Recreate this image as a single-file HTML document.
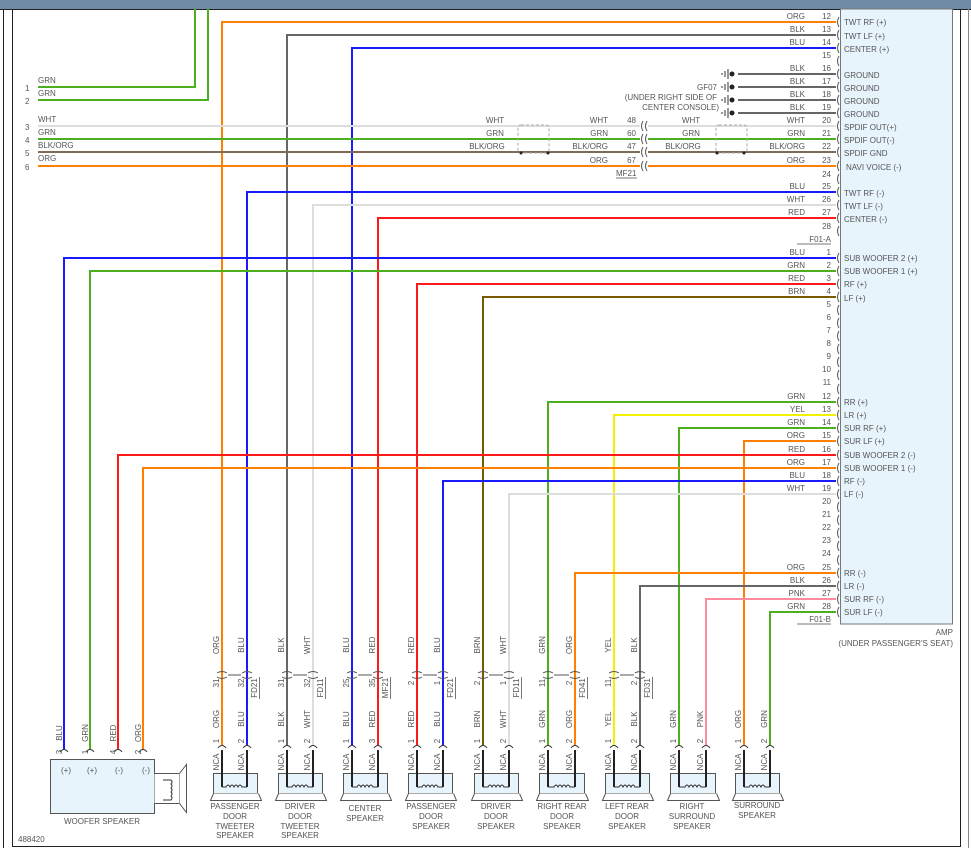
<!DOCTYPE html>
<html><head><meta charset="utf-8"><style>
html,body{margin:0;padding:0;background:#fff;}
svg{display:block;}
text{font-family:"Liberation Sans",sans-serif;font-size:8px;fill:#555;}
</style></head><body>
<svg width="971" height="858" viewBox="0 0 971 858" xmlns="http://www.w3.org/2000/svg">
<rect x="0" y="0" width="971" height="9" fill="#6f8aa4"/>
<line x1="0" y1="9.5" x2="971" y2="9.5" stroke="#222" stroke-width="1"/>
<line x1="3.5" y1="9" x2="3.5" y2="848" stroke="#222"/>
<line x1="12.5" y1="9" x2="12.5" y2="847" stroke="#222"/>
<line x1="12" y1="846.5" x2="961" y2="846.5" stroke="#222"/>
<line x1="960.5" y1="9" x2="960.5" y2="847" stroke="#222"/>
<line x1="968.5" y1="9" x2="968.5" y2="848" stroke="#888"/>
<!-- AMP box -->
<rect x="840.5" y="9" width="112" height="615" fill="#e8f4fc" stroke="#777"/>
<text x="953" y="635" text-anchor="end">AMP</text>
<text x="953" y="646" text-anchor="end">(UNDER PASSENGER'S SEAT)</text>

<g fill="none" stroke-width="2">
<path d="M836,22H222V745" stroke="#ff8000"/>
<path d="M836,35H287V745" stroke="#666"/>
<path d="M836,48H352V745" stroke="#1a1aff"/>
<path d="M836,192H247V745" stroke="#1a1aff"/>
<path d="M836,205H313V745" stroke="#ddd"/>
<path d="M836,218H378V745" stroke="#ff1a1a"/>
<path d="M38,87H195V9" stroke="#4caf1e"/>
<path d="M38,100H208V9" stroke="#4caf1e"/>
<path d="M38,126H836" stroke="#ddd"/>
<path d="M38,139H836" stroke="#4caf1e"/>
<path d="M38,152H836" stroke="#806a58"/>
<path d="M38,166H836" stroke="#ff8000"/>
<path d="M738,74H836M738,87H836M738,100H836M738,113H836" stroke="#666"/>
<path d="M836,258H64V749" stroke="#1a1aff"/>
<path d="M836,271H90V749" stroke="#4caf1e"/>
<path d="M836,284H417V745" stroke="#ff1a1a"/>
<path d="M836,297H483V745" stroke="#7a5a00"/>
<path d="M836,402H548V745" stroke="#4caf1e"/>
<path d="M836,415H614V745" stroke="#f2f200"/>
<path d="M836,428H679V745" stroke="#4caf1e"/>
<path d="M836,441H744V745" stroke="#ff8000"/>
<path d="M836,455H118V749" stroke="#ff1a1a"/>
<path d="M836,468H143V749" stroke="#ff8000"/>
<path d="M836,481H443V745" stroke="#1a1aff"/>
<path d="M836,494H509V745" stroke="#ddd"/>
<path d="M836,573H575V745" stroke="#ff8000"/>
<path d="M836,586H640V745" stroke="#666"/>
<path d="M836,599H706V745" stroke="#ff8aa0"/>
<path d="M836,612H770V745" stroke="#4caf1e"/>
</g>

<g fill="none" stroke="#555" stroke-width="1">
<path d="M839,17q-3,5 0,10M839,30q-3,5 0,10M839,43q-3,5 0,10M839,56q-3,5 0,10M839,69q-3,5 0,10M839,82q-3,5 0,10M839,95q-3,5 0,10M839,108q-3,5 0,10M839,121q-3,5 0,10M839,134q-3,5 0,10M839,147q-3,5 0,10M839,161q-3,5 0,10M839,174q-3,5 0,10M839,187q-3,5 0,10M839,200q-3,5 0,10M839,213q-3,5 0,10M839,226q-3,5 0,10"/>
<path d="M839,253q-3,5 0,10M839,266q-3,5 0,10M839,279q-3,5 0,10M839,292q-3,5 0,10M839,305q-3,5 0,10M839,318q-3,5 0,10M839,331q-3,5 0,10M839,344q-3,5 0,10M839,357q-3,5 0,10M839,370q-3,5 0,10M839,384q-3,5 0,10M839,397q-3,5 0,10M839,410q-3,5 0,10M839,423q-3,5 0,10M839,436q-3,5 0,10M839,450q-3,5 0,10M839,463q-3,5 0,10M839,476q-3,5 0,10M839,489q-3,5 0,10M839,502q-3,5 0,10M839,515q-3,5 0,10M839,528q-3,5 0,10M839,541q-3,5 0,10M839,555q-3,5 0,10M839,568q-3,5 0,10M839,581q-3,5 0,10M839,594q-3,5 0,10M839,607q-3,5 0,10"/>
</g>
<rect x="640" y="120" width="8" height="50" fill="#fff"/>
<g fill="none" stroke="#555" stroke-width="1">
<path d="M643,121q-3,5 0,10M647,121q-3,5 0,10M643,134q-3,5 0,10M647,134q-3,5 0,10M643,147q-3,5 0,10M647,147q-3,5 0,10M643,161q-3,5 0,10M647,161q-3,5 0,10"/>
<rect x="518" y="125" width="31" height="28" rx="3" stroke="#aaa" stroke-dasharray="3,2"/>
<rect x="716" y="125" width="31" height="28" rx="3" stroke="#aaa" stroke-dasharray="3,2"/>
</g>
<g fill="#222"><circle cx="521" cy="153" r="1.5"/><circle cx="548" cy="153" r="1.5"/><circle cx="717" cy="153" r="1.5"/><circle cx="744" cy="153" r="1.5"/>
<circle cx="732" cy="74" r="2.5"/><circle cx="732" cy="87" r="2.5"/><circle cx="732" cy="100" r="2.5"/><circle cx="732" cy="113" r="2.5"/></g>
<g stroke="#333" stroke-width="1"><path d="M728,69v10M725,71v6M722,73v2M728,82v10M725,84v6M722,86v2M728,95v10M725,97v6M722,99v2M728,108v10M725,110v6M722,112v2"/></g>
<text x="717" y="90" text-anchor="end">GF07</text>
<text x="717" y="100" text-anchor="end">(UNDER RIGHT SIDE OF</text>
<text x="719" y="110" text-anchor="end">CENTER CONSOLE)</text>

<g text-anchor="end">
<text x="831" y="19">12</text><text x="805" y="19">ORG</text>
<text x="831" y="32">13</text><text x="805" y="32">BLK</text>
<text x="831" y="45">14</text><text x="805" y="45">BLU</text>
<text x="831" y="58">15</text>
<text x="831" y="71">16</text><text x="805" y="71">BLK</text>
<text x="831" y="84">17</text><text x="805" y="84">BLK</text>
<text x="831" y="97">18</text><text x="805" y="97">BLK</text>
<text x="831" y="110">19</text><text x="805" y="110">BLK</text>
<text x="831" y="123">20</text><text x="805" y="123">WHT</text>
<text x="831" y="136">21</text><text x="805" y="136">GRN</text>
<text x="831" y="149">22</text><text x="805" y="149">BLK/ORG</text>
<text x="831" y="163">23</text><text x="805" y="163">ORG</text>
<text x="831" y="177">24</text>
<text x="831" y="189">25</text><text x="805" y="189">BLU</text>
<text x="831" y="202">26</text><text x="805" y="202">WHT</text>
<text x="831" y="215">27</text><text x="805" y="215">RED</text>
<text x="831" y="229">28</text>
<text x="831" y="255">1</text><text x="805" y="255">BLU</text>
<text x="831" y="268">2</text><text x="805" y="268">GRN</text>
<text x="831" y="281">3</text><text x="805" y="281">RED</text>
<text x="831" y="294">4</text><text x="805" y="294">BRN</text>
<text x="831" y="307">5</text><text x="831" y="320">6</text><text x="831" y="333">7</text><text x="831" y="346">8</text><text x="831" y="359">9</text><text x="831" y="372">10</text><text x="831" y="385">11</text>
<text x="831" y="399">12</text><text x="805" y="399">GRN</text>
<text x="831" y="412">13</text><text x="805" y="412">YEL</text>
<text x="831" y="425">14</text><text x="805" y="425">GRN</text>
<text x="831" y="438">15</text><text x="805" y="438">ORG</text>
<text x="831" y="452">16</text><text x="805" y="452">RED</text>
<text x="831" y="465">17</text><text x="805" y="465">ORG</text>
<text x="831" y="478">18</text><text x="805" y="478">BLU</text>
<text x="831" y="491">19</text><text x="805" y="491">WHT</text>
<text x="831" y="504">20</text><text x="831" y="517">21</text><text x="831" y="530">22</text><text x="831" y="543">23</text><text x="831" y="556">24</text>
<text x="831" y="570">25</text><text x="805" y="570">ORG</text>
<text x="831" y="583">26</text><text x="805" y="583">BLK</text>
<text x="831" y="596">27</text><text x="805" y="596">PNK</text>
<text x="831" y="609">28</text><text x="805" y="609">GRN</text>
<text x="831" y="242">F01-A</text>
<text x="831" y="622">F01-B</text>
<text x="636" y="123">48</text><text x="608" y="123">WHT</text>
<text x="636" y="136">60</text><text x="608" y="136">GRN</text>
<text x="636" y="149">47</text><text x="608" y="149">BLK/ORG</text>
<text x="636" y="163">67</text><text x="608" y="163">ORG</text>
</g>
<line x1="797" y1="244" x2="831" y2="244" stroke="#777"/>
<line x1="797" y1="624" x2="831" y2="624" stroke="#777"/>
<text x="616" y="176">MF21</text><line x1="616" y1="178" x2="637" y2="178" stroke="#777"/>
<g text-anchor="middle">
<text x="691" y="123">WHT</text><text x="691" y="136">GRN</text><text x="683" y="149">BLK/ORG</text>
<text x="495" y="123">WHT</text><text x="495" y="136">GRN</text><text x="487" y="149">BLK/ORG</text>
</g>
<text x="38" y="83">GRN</text><text x="38" y="96">GRN</text>
<text x="38" y="122">WHT</text><text x="38" y="135">GRN</text><text x="38" y="148">BLK/ORG</text><text x="38" y="161">ORG</text>
<text x="25" y="91">1</text><text x="25" y="104">2</text><text x="25" y="130">3</text><text x="25" y="143">4</text><text x="25" y="156">5</text><text x="25" y="170">6</text>

<g>
<text x="844" y="25">TWT RF (+)</text><text x="844" y="39">TWT LF (+)</text><text x="844" y="52">CENTER (+)</text>
<text x="844" y="78">GROUND</text><text x="844" y="91">GROUND</text><text x="844" y="104">GROUND</text><text x="844" y="117">GROUND</text>
<text x="844" y="130">SPDIF OUT(+)</text><text x="844" y="143">SPDIF OUT(-)</text><text x="844" y="156">SPDIF GND</text><text x="846" y="170">NAVI VOICE (-)</text>
<text x="844" y="196">TWT RF (-)</text><text x="844" y="209">TWT LF (-)</text><text x="844" y="222">CENTER (-)</text>
<text x="844" y="261">SUB WOOFER 2 (+)</text><text x="844" y="274">SUB WOOFER 1 (+)</text><text x="844" y="287">RF (+)</text><text x="844" y="301">LF (+)</text>
<text x="844" y="405">RR (+)</text><text x="844" y="418">LR (+)</text><text x="844" y="431">SUR RF (+)</text><text x="844" y="444">SUR LF (+)</text>
<text x="844" y="458">SUB WOOFER 2 (-)</text><text x="844" y="471">SUB WOOFER 1 (-)</text><text x="844" y="484">RF (-)</text><text x="844" y="497">LF (-)</text>
<text x="844" y="576">RR (-)</text><text x="844" y="589">LR (-)</text><text x="844" y="602">SUR RF (-)</text><text x="844" y="615">SUR LF (-)</text>
</g>

<g fill="none" stroke="#555" stroke-width="1">
<path d="M217,673q5,-3 10,0M217,677q5,3 10,0M242,673q5,-3 10,0M242,677q5,3 10,0M228,675h13"/>
<path d="M282,673q5,-3 10,0M282,677q5,3 10,0M308,673q5,-3 10,0M308,677q5,3 10,0M293,675h14"/>
<path d="M347,673q5,-3 10,0M347,677q5,3 10,0M373,673q5,-3 10,0M373,677q5,3 10,0M358,675h14"/>
<path d="M412,673q5,-3 10,0M412,677q5,3 10,0M438,673q5,-3 10,0M438,677q5,3 10,0M423,675h14"/>
<path d="M478,673q5,-3 10,0M478,677q5,3 10,0M504,673q5,-3 10,0M504,677q5,3 10,0M489,675h14"/>
<path d="M543,673q5,-3 10,0M543,677q5,3 10,0M570,673q5,-3 10,0M570,677q5,3 10,0M554,675h15"/>
<path d="M609,673q5,-3 10,0M609,677q5,3 10,0M635,673q5,-3 10,0M635,677q5,3 10,0M620,675h14"/>
</g>
<g fill="none" stroke="#333" stroke-width="1">
<path d="M218,748q4,-5 8,0M243,748q4,-5 8,0M283,748q4,-5 8,0M309,748q4,-5 8,0M348,748q4,-5 8,0M374,748q4,-5 8,0M413,748q4,-5 8,0M439,748q4,-5 8,0M479,748q4,-5 8,0M505,748q4,-5 8,0M544,748q4,-5 8,0M571,748q4,-5 8,0M610,748q4,-5 8,0M636,748q4,-5 8,0M675,748q4,-5 8,0M702,748q4,-5 8,0M740,748q4,-5 8,0M766,748q4,-5 8,0"/>
<path d="M60,752q4,-5 8,0M86,752q4,-5 8,0M114,752q4,-5 8,0M139,752q4,-5 8,0"/>
</g>

<g>
<g stroke="#555" fill="#e8f4fc"><rect x="213.5" y="773.5" width="44" height="20"/><rect x="278.5" y="773.5" width="44" height="20"/><rect x="343.5" y="773.5" width="44" height="20"/><rect x="408.5" y="773.5" width="44" height="20"/><rect x="474.5" y="773.5" width="44" height="20"/><rect x="539.5" y="773.5" width="45" height="20"/><rect x="605.5" y="773.5" width="44" height="20"/><rect x="670.5" y="773.5" width="45" height="20"/><rect x="735.5" y="773.5" width="44" height="20"/></g>
<g stroke="#555" fill="#fff"><path d="M213.5,793.5l-3,7h51l-3,-7"/><path d="M278.5,793.5l-3,7h51l-3,-7"/><path d="M343.5,793.5l-3,7h51l-3,-7"/><path d="M408.5,793.5l-3,7h51l-3,-7"/><path d="M474.5,793.5l-3,7h51l-3,-7"/><path d="M539.5,793.5l-3,7h52l-3,-7"/><path d="M605.5,793.5l-3,7h51l-3,-7"/><path d="M670.5,793.5l-3,7h52l-3,-7"/><path d="M735.5,793.5l-3,7h51l-3,-7"/></g>
<g fill="none" stroke="#222" stroke-width="2"><path d="M222,750V787M247,750V787M287,750V787M313,750V787M352,750V787M378,750V787M417,750V787M443,750V787M483,750V787M509,750V787M548,750V787M575,750V787M614,750V787M640,750V787M679,750V787M706,750V787M744,750V787M770,750V787"/></g>
<g fill="none" stroke="#333" stroke-width="1">
<path d="M222,787h4q2,-4 4,0q2,-4 4,0q2,-4 4,0q2,-4 4,0h5"/>
<path d="M287,787h5q2,-4 4,0q2,-4 4,0q2,-4 4,0q2,-4 4,0h5"/>
<path d="M352,787h5q2,-4 4,0q2,-4 4,0q2,-4 4,0q2,-4 4,0h5"/>
<path d="M417,787h5q2,-4 4,0q2,-4 4,0q2,-4 4,0q2,-4 4,0h5"/>
<path d="M483,787h5q2,-4 4,0q2,-4 4,0q2,-4 4,0q2,-4 4,0h5"/>
<path d="M548,787h6q2,-4 4,0q2,-4 4,0q2,-4 4,0q2,-4 4,0h5"/>
<path d="M614,787h5q2,-4 4,0q2,-4 4,0q2,-4 4,0q2,-4 4,0h5"/>
<path d="M679,787h6q2,-4 4,0q2,-4 4,0q2,-4 4,0q2,-4 4,0h5"/>
<path d="M744,787h5q2,-4 4,0q2,-4 4,0q2,-4 4,0q2,-4 4,0h5"/>
</g>
</g>
<rect x="50.5" y="759.5" width="104" height="54" fill="#e8f4fc" stroke="#555"/>
<path d="M154.5,773.5h25v30h-25" fill="#fff" stroke="#555"/>
<path d="M179.5,773.5l7,-9v48l-7,-9" fill="#fff" stroke="#555"/>
<path d="M163,780h8q2,2 0,4q2,2 0,4q2,2 0,4q2,2 0,4q2,2 0,4h-8" fill="none" stroke="#333"/>
<g text-anchor="middle"><text x="66" y="773">(+)</text><text x="92" y="773">(+)</text><text x="119" y="773">(-)</text><text x="146" y="773">(-)</text>
<text x="102" y="824">WOOFER SPEAKER</text>
<text x="235" y="809">PASSENGER</text><text x="235" y="819">DOOR</text><text x="235" y="829">TWEETER</text><text x="235" y="838">SPEAKER</text>
<text x="300" y="809">DRIVER</text><text x="300" y="819">DOOR</text><text x="300" y="829">TWEETER</text><text x="300" y="838">SPEAKER</text>
<text x="365" y="811">CENTER</text><text x="365" y="821">SPEAKER</text>
<text x="431" y="809">PASSENGER</text><text x="431" y="819">DOOR</text><text x="431" y="829">SPEAKER</text>
<text x="496" y="809">DRIVER</text><text x="496" y="819">DOOR</text><text x="496" y="829">SPEAKER</text>
<text x="562" y="809">RIGHT REAR</text><text x="562" y="819">DOOR</text><text x="562" y="829">SPEAKER</text>
<text x="627" y="809">LEFT REAR</text><text x="627" y="819">DOOR</text><text x="627" y="829">SPEAKER</text>
<text x="692" y="809">RIGHT</text><text x="692" y="819">SURROUND</text><text x="692" y="829">SPEAKER</text>
<text x="757" y="808">SURROUND</text><text x="757" y="818">SPEAKER</text>
</g>
<text x="18" y="842">488420</text>

<g text-anchor="middle">
<text transform="translate(62,733) rotate(-90)">BLU</text><text transform="translate(88,733) rotate(-90)">GRN</text><text transform="translate(116,733) rotate(-90)">RED</text><text transform="translate(141,733) rotate(-90)">ORG</text>
<text transform="translate(62,752) rotate(-90)">3</text><text transform="translate(88,752) rotate(-90)">1</text><text transform="translate(116,752) rotate(-90)">4</text><text transform="translate(141,752) rotate(-90)">2</text>
</g>
<g text-anchor="middle">
<text transform="translate(219,645) rotate(-90)">ORG</text><text transform="translate(244,645) rotate(-90)">BLU</text>
<text transform="translate(284,645) rotate(-90)">BLK</text><text transform="translate(310,645) rotate(-90)">WHT</text>
<text transform="translate(349,645) rotate(-90)">BLU</text><text transform="translate(375,645) rotate(-90)">RED</text>
<text transform="translate(414,645) rotate(-90)">RED</text><text transform="translate(440,645) rotate(-90)">BLU</text>
<text transform="translate(480,645) rotate(-90)">BRN</text><text transform="translate(506,645) rotate(-90)">WHT</text>
<text transform="translate(545,645) rotate(-90)">GRN</text><text transform="translate(572,645) rotate(-90)">ORG</text>
<text transform="translate(611,645) rotate(-90)">YEL</text><text transform="translate(637,645) rotate(-90)">BLK</text>

<text transform="translate(219,683) rotate(-90)">31</text><text transform="translate(244,683) rotate(-90)">32</text>
<text transform="translate(284,683) rotate(-90)">31</text><text transform="translate(310,683) rotate(-90)">32</text>
<text transform="translate(349,683) rotate(-90)">25</text><text transform="translate(375,683) rotate(-90)">35</text>
<text transform="translate(414,683) rotate(-90)">2</text><text transform="translate(440,683) rotate(-90)">1</text>
<text transform="translate(480,683) rotate(-90)">2</text><text transform="translate(506,683) rotate(-90)">1</text>
<text transform="translate(545,683) rotate(-90)">11</text><text transform="translate(572,683) rotate(-90)">2</text>
<text transform="translate(611,683) rotate(-90)">11</text><text transform="translate(637,683) rotate(-90)">2</text>

<text transform="translate(257,688) rotate(-90)">FD21</text><text transform="translate(323,688) rotate(-90)">FD11</text>
<text transform="translate(388,688) rotate(-90)">MF21</text><text transform="translate(453,688) rotate(-90)">FD21</text>
<text transform="translate(519,688) rotate(-90)">FD11</text><text transform="translate(585,688) rotate(-90)">FD41</text>
<text transform="translate(650,688) rotate(-90)">FD31</text>

<text transform="translate(219,719) rotate(-90)">ORG</text><text transform="translate(244,719) rotate(-90)">BLU</text>
<text transform="translate(284,719) rotate(-90)">BLK</text><text transform="translate(310,719) rotate(-90)">WHT</text>
<text transform="translate(349,719) rotate(-90)">BLU</text><text transform="translate(375,719) rotate(-90)">RED</text>
<text transform="translate(414,719) rotate(-90)">RED</text><text transform="translate(440,719) rotate(-90)">BLU</text>
<text transform="translate(480,719) rotate(-90)">BRN</text><text transform="translate(506,719) rotate(-90)">WHT</text>
<text transform="translate(545,719) rotate(-90)">GRN</text><text transform="translate(572,719) rotate(-90)">ORG</text>
<text transform="translate(611,719) rotate(-90)">YEL</text><text transform="translate(637,719) rotate(-90)">BLK</text>
<text transform="translate(676,719) rotate(-90)">GRN</text><text transform="translate(703,719) rotate(-90)">PNK</text>
<text transform="translate(741,719) rotate(-90)">ORG</text><text transform="translate(767,719) rotate(-90)">GRN</text>

<text transform="translate(219,741) rotate(-90)">1</text><text transform="translate(244,741) rotate(-90)">2</text>
<text transform="translate(284,741) rotate(-90)">1</text><text transform="translate(310,741) rotate(-90)">2</text>
<text transform="translate(349,741) rotate(-90)">1</text><text transform="translate(375,741) rotate(-90)">3</text>
<text transform="translate(414,741) rotate(-90)">1</text><text transform="translate(440,741) rotate(-90)">2</text>
<text transform="translate(480,741) rotate(-90)">1</text><text transform="translate(506,741) rotate(-90)">2</text>
<text transform="translate(545,741) rotate(-90)">1</text><text transform="translate(572,741) rotate(-90)">2</text>
<text transform="translate(611,741) rotate(-90)">1</text><text transform="translate(637,741) rotate(-90)">2</text>
<text transform="translate(676,741) rotate(-90)">1</text><text transform="translate(703,741) rotate(-90)">2</text>
<text transform="translate(741,741) rotate(-90)">1</text><text transform="translate(767,741) rotate(-90)">2</text>

<text transform="translate(219,762) rotate(-90)">NCA</text><text transform="translate(244,762) rotate(-90)">NCA</text>
<text transform="translate(284,762) rotate(-90)">NCA</text><text transform="translate(310,762) rotate(-90)">NCA</text>
<text transform="translate(349,762) rotate(-90)">NCA</text><text transform="translate(375,762) rotate(-90)">NCA</text>
<text transform="translate(414,762) rotate(-90)">NCA</text><text transform="translate(440,762) rotate(-90)">NCA</text>
<text transform="translate(480,762) rotate(-90)">NCA</text><text transform="translate(506,762) rotate(-90)">NCA</text>
<text transform="translate(545,762) rotate(-90)">NCA</text><text transform="translate(572,762) rotate(-90)">NCA</text>
<text transform="translate(611,762) rotate(-90)">NCA</text><text transform="translate(637,762) rotate(-90)">NCA</text>
<text transform="translate(676,762) rotate(-90)">NCA</text><text transform="translate(703,762) rotate(-90)">NCA</text>
<text transform="translate(741,762) rotate(-90)">NCA</text><text transform="translate(767,762) rotate(-90)">NCA</text>
</g>
<g stroke="#777"><path d="M259.5,677v22M325.5,677v22M390.5,677v22M455.5,677v22M521.5,677v22M587.5,677v22M652.5,677v22"/></g>
</svg>
</body></html>
